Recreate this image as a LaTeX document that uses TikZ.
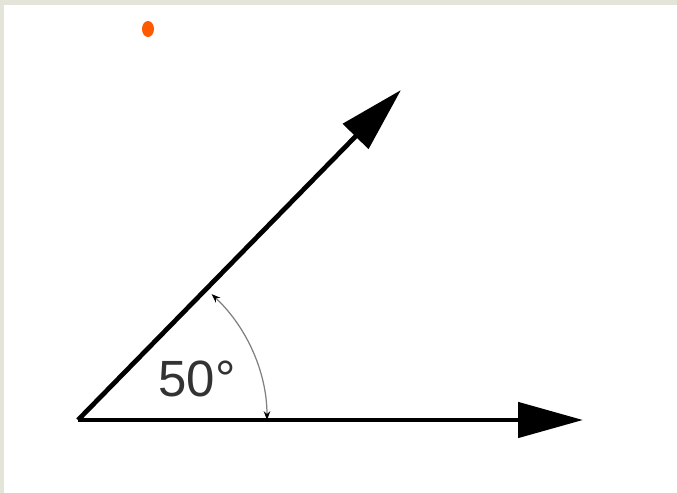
\documentclass[tikz,border=0pt]{standalone}
\usepackage{fontspec}
\setmainfont{Liberation Sans}
\usetikzlibrary{arrows.meta}
\definecolor{framegray}{HTML}{E4E5D8}
\definecolor{dotorange}{HTML}{FF5A00}
\definecolor{labelgray}{HTML}{333333}
\begin{document}
\begin{tikzpicture}[>={Triangle[length=1.3cm,width=0.7cm]},x=0.02cm,y=0.02cm]
            \useasboundingbox (0,0) rectangle (677,493);
            \fill[framegray] (0,0) rectangle (677,493);
            \fill[white] (4,0) rectangle (677,488);
            \coordinate (O) at (78,73);
            \coordinate (P) at (583,73);
            \coordinate (Q) at (401,403);
            \coordinate (A) at (267,73);
            \coordinate (dot) at (148,464);
            \draw[->,line width=0.095cm] (O) -- (P);
            \draw[->,line width=0.095cm] (O) -- (Q);
            % angle mark
            \draw[gray,line width=0.7pt,{Stealth[length=5pt,black]}-{Stealth[length=5pt,black]}] (A) arc[start angle=0,end angle=45,x radius=189,y radius=178];
            \node[text=labelgray,font=\fontsize{29}{30}\selectfont] (ang) at (197,114) {50°};
            \fill[dotorange] (dot) ellipse [x radius=6,y radius=8];
        \end{tikzpicture}
\end{document}
